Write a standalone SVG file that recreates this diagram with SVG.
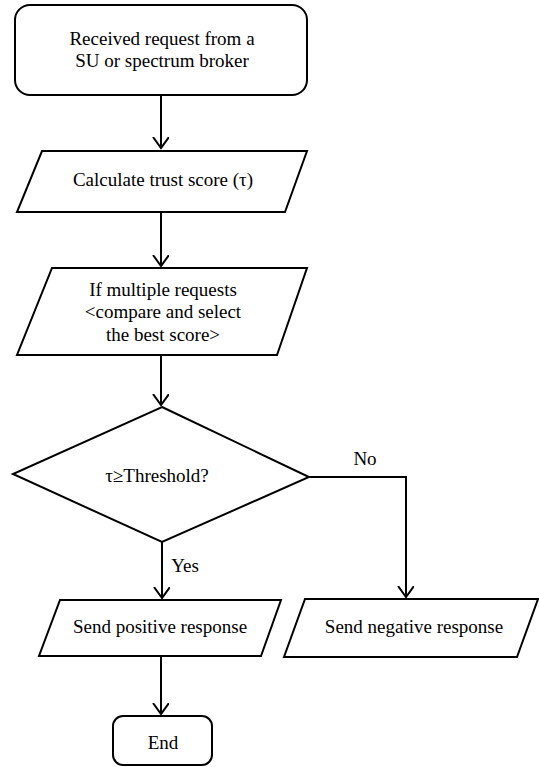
<svg xmlns="http://www.w3.org/2000/svg" width="539" height="767" viewBox="0 0 539 767">
<style>
.s{fill:#fff;stroke:#000;stroke-width:2}
.t{font-family:'Liberation Serif','Times New Roman','DejaVu Serif',serif;font-size:19px;fill:#000;text-anchor:middle}
.c{fill:none;stroke:#000;stroke-width:2}
</style>
<defs>
<marker id="ah" markerUnits="userSpaceOnUse" markerWidth="20" markerHeight="20" refX="11" refY="8" orient="auto">
<path d="M0,0 L11,8 L0,16" fill="none" stroke="#000" stroke-width="2"/>
</marker>
</defs>
<rect width="539" height="767" fill="#fff"/>
<g id="connectors">
<line class="c" x1="161" y1="95" x2="161" y2="148" marker-end="url(#ah)"/>
<line class="c" x1="161" y1="212" x2="161" y2="266" marker-end="url(#ah)"/>
<line class="c" x1="161" y1="355" x2="161" y2="405" marker-end="url(#ah)"/>
<line class="c" x1="162" y1="542" x2="162" y2="598" marker-end="url(#ah)"/>
<polyline class="c" points="309,477 406,477 406,597" marker-end="url(#ah)"/>
<line class="c" x1="161" y1="656" x2="161" y2="714" marker-end="url(#ah)"/>
<text class="t" x="365" y="465" font-family="Liberation Serif, serif">No</text>
<text class="t" x="185" y="572" font-family="Liberation Serif, serif">Yes</text>
</g>
<g id="start">
<rect class="s" x="15" y="5" width="292" height="90" rx="15" ry="15"/>
<text class="t" x="162" y="45">Received request from a</text>
<text class="t" x="162" y="67">SU or spectrum broker</text>
</g>
<g id="calc">
<polygon class="s" points="42,151 307,151 285,212 17,212"/>
<text class="t" x="163" y="186">Calculate trust score (τ)</text>
</g>
<g id="compare">
<polygon class="s" points="52,268 307,268 277,355 17,355"/>
<text class="t" x="163" y="296">If multiple requests</text>
<text class="t" x="163" y="318">&lt;compare and select</text>
<text class="t" x="163" y="341">the best score&gt;</text>
</g>
<g id="decision">
<polygon class="s" points="162,407 309,477 162,542 13,474"/>
<text class="t" x="157" y="482">τ≥Threshold?</text>
</g>
<g id="positive">
<polygon class="s" points="60,600 281,600 261,656 39,656"/>
<text class="t" x="160" y="633">Send positive response</text>
</g>
<g id="negative">
<polygon class="s" points="305,599 538,599 517,657 284,657"/>
<text class="t" x="414" y="633">Send negative response</text>
</g>
<g id="end">
<rect class="s" x="113" y="716" width="99" height="49" rx="10" ry="10"/>
<text class="t" x="163" y="749">End</text>
</g>
</svg>
